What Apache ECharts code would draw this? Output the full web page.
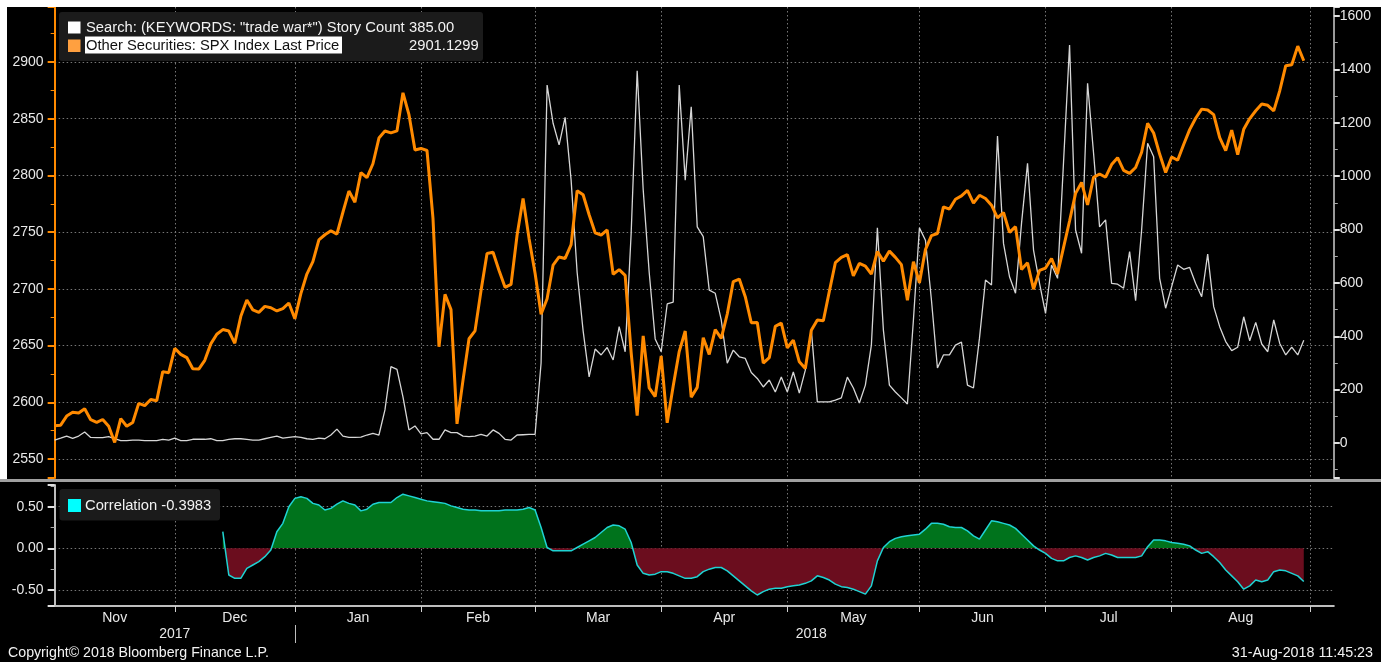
<!DOCTYPE html>
<html><head><meta charset="utf-8">
<script src="https://cdn.jsdelivr.net/npm/echarts@6/dist/echarts.min.js"></script>
<style>html,body{margin:0;padding:0;background:#fff;}#c{width:1381px;height:662px;}</style>
</head><body><div id="c"></div>
<script>
// ---------- trading days (categories) ----------
const nov17 = [1,2,3,6,7,8,9,10,13,14,15,16,17,20,21,22,24,27,28,29,30];
const dec17 = [1,4,5,6,7,8,11,12,13,14,15,18,19,20,21,22,26,27,28,29];
const jan18 = [2,3,4,5,8,9,10,11,12,16,17,18,19,22,23,24,25,26,29,30,31];
const feb18 = [1,2,5,6,7,8,9,12,13,14,15,16,20,21,22,23,26,27,28];
const mar18 = [1,2,5,6,7,8,9,12,13,14,15,16,19,20,21,22,23,26,27,28,29];
const apr18 = [2,3,4,5,6,9,10,11,12,13,16,17,18,19,20,23,24,25,26,27,30];
const may18 = [1,2,3,4,7,8,9,10,11,14,15,16,17,18,21,22,23,24,25,29,30,31];
const jun18 = [1,4,5,6,7,8,11,12,13,14,15,18,19,20,21,22,25,26,27,28,29];
const jul18 = [2,3,5,6,9,10,11,12,13,16,17,18,19,20,23,24,25,26,27,30,31];
const aug18 = [1,2,3,6,7,8,9,10,13,14,15,16,17,20,21,22,23,24,27,28,29,30,31];
const sep18 = [4,5,6,7];
const monthKeys = ['2017-11','2017-12','2018-01','2018-02','2018-03','2018-04','2018-05','2018-06','2018-07','2018-08','2018-09'];
const monthDays = [nov17,dec17,jan18,feb18,mar18,apr18,may18,jun18,jul18,aug18,sep18];
const monthLabels = ['Nov','Dec','Jan','Feb','Mar','Apr','May','Jun','Jul','Aug'];
const yearLabels = ['2017','2018'];

// ---------- series values ----------
const spxLast = [
2579.36,2579.85,2587.84,2591.13,2590.64,2594.38,2584.62,2582.30,2584.84,2578.87,2564.62,2585.64,2578.85,2582.14,2599.03,2597.08,2602.42,2601.42,2627.04,2626.07,2647.58,
2642.22,2639.44,2629.57,2629.27,2636.98,2651.50,2659.99,2664.11,2662.85,2652.01,2675.81,2690.16,2681.47,2679.25,2684.57,2683.34,2680.50,2682.62,2687.54,2673.61,
2695.81,2713.06,2723.99,2743.15,2747.71,2751.29,2748.23,2767.56,2786.24,2776.42,2802.56,2798.03,2810.30,2832.97,2839.13,2837.54,2839.25,2872.87,2853.53,2822.43,2823.81,
2821.98,2762.13,2648.94,2695.14,2681.66,2581.00,2619.55,2656.00,2662.94,2698.63,2731.20,2732.22,2716.26,2701.33,2703.96,2747.30,2779.60,2744.28,2713.83,
2677.67,2691.25,2720.94,2728.12,2726.80,2738.97,2786.57,2783.02,2765.31,2749.48,2747.33,2752.01,2712.92,2716.94,2711.93,2643.69,2588.26,2658.55,2612.62,2605.00,2640.87,
2581.88,2614.45,2644.69,2662.84,2604.47,2613.16,2656.87,2642.19,2663.99,2656.30,2677.84,2706.39,2708.64,2693.13,2670.14,2670.29,2634.56,2639.40,2666.94,2669.91,2648.05,
2654.80,2635.67,2629.73,2663.42,2672.63,2671.92,2697.79,2723.07,2727.72,2730.13,2711.45,2722.46,2720.13,2712.97,2733.01,2724.44,2733.29,2727.76,2721.33,2689.86,2724.01,2705.27,
2734.62,2746.87,2748.80,2772.35,2770.37,2779.03,2782.00,2786.85,2775.63,2782.49,2779.66,2773.75,2762.59,2767.32,2749.76,2754.88,2717.07,2723.06,2699.63,2716.31,2718.37,
2726.71,2713.22,2736.61,2759.82,2784.17,2793.84,2774.02,2798.29,2801.31,2798.43,2809.55,2815.62,2804.49,2801.83,2806.98,2820.40,2846.07,2837.44,2818.82,2802.60,2816.29,
2813.36,2827.22,2840.35,2850.40,2858.45,2857.70,2853.58,2833.28,2821.93,2839.96,2818.37,2840.69,2850.13,2857.05,2862.96,2861.82,2856.98,2874.69,2896.74,2897.52,2914.04,2901.13
];
const storyCount = [
11,18,26,17,26,41,21,20,20,24,16,9,9,11,11,9,9,9,14,11,18,9,9,14,14,14,16,
9,9,14,16,16,14,11,11,16,21,26,18,21,24,21,16,14,18,16,30,52,26,21,21,22,30,
36,30,124,286,276,173,49,64,34,39,14,14,49,39,39,26,24,26,32,26,49,36,14,11,30,31,32,32,
300,1341,1198,1117,1220,985,640,420,248,352,330,358,311,436,342,786,1395,950,640,390,342,521,528,1341,985,1260,810,773,573,561,461,299,348,323,317,264,242,
210,236,191,247,191,266,187,273,423,154,154,154,161,169,247,206,150,217,367,806,423,217,191,169,146,461,806,760,536,281,330,330,367,378,217,206,393,611,592,
1150,748,623,561,823,1048,723,598,486,667,617,1054,1491,798,711,1348,1085,810,836,598,595,580,717,533,798,1123,1073,617,505,586,667,651,658,598,548,708,511,436,380,346,359,473,383,452,371,342,461,373,330,359,330,385
];
const correlationStart = '2017-12-12';
const correlation = [
0.20,-0.32,-0.36,-0.36,-0.24,-0.20,-0.16,-0.10,-0.02,0.20,0.30,0.50,0.60,0.62,0.60,0.54,0.52,0.46,0.48,0.53,0.57,0.54,0.52,0.45,0.47,0.53,0.55,0.55,0.55,0.61,
0.65,0.63,0.61,0.59,0.57,0.56,0.55,0.54,0.51,0.49,0.47,0.46,0.46,0.45,0.45,0.45,0.45,0.46,0.46,0.46,0.47,0.49,0.46,0.25,0.01,-0.03,-0.03,-0.03,-0.03,0.01,
0.05,0.09,0.13,0.19,0.25,0.28,0.27,0.23,0.07,-0.20,-0.30,-0.32,-0.31,-0.28,-0.28,-0.30,-0.33,-0.36,-0.36,-0.34,-0.28,-0.25,-0.23,-0.23,-0.27,-0.33,-0.39,-0.45,-0.51,-0.56,
-0.52,-0.49,-0.48,-0.48,-0.46,-0.45,-0.44,-0.42,-0.39,-0.33,-0.35,-0.38,-0.43,-0.46,-0.47,-0.49,-0.52,-0.55,-0.45,-0.15,0.01,0.08,0.12,0.14,0.15,0.16,0.17,0.23,0.30,0.30,
0.29,0.26,0.25,0.25,0.21,0.15,0.11,0.22,0.33,0.32,0.30,0.28,0.24,0.17,0.10,0.03,-0.02,-0.06,-0.12,-0.15,-0.15,-0.11,-0.09,-0.11,-0.14,-0.11,-0.09,-0.06,-0.08,-0.11,
-0.11,-0.11,-0.11,-0.09,0.02,0.10,0.10,0.09,0.07,0.06,0.05,0.03,-0.02,-0.06,-0.04,-0.10,-0.17,-0.26,-0.33,-0.40,-0.49,-0.45,-0.38,-0.40,-0.38,-0.28,-0.26,-0.27,-0.30,-0.33,
-0.3983
];

// ---------- derived structures ----------
const dates = [];
const monthEnd = [];
monthKeys.forEach((k, m) => {
  monthDays[m].forEach(d => dates.push(k + '-' + String(d).padStart(2, '0')));
  monthEnd.push(dates.length - 1);
});
const tickIdx = new Set(monthEnd.slice(0, monthLabels.length));
const labelAt = {};
monthLabels.forEach((t, m) => {
  const a = m === 0 ? 0 : monthEnd[m - 1];
  const mid = (a + monthEnd[m]) / 2;
  labelAt[Math.floor(mid)] = { text: t, half: mid % 1 !== 0 };
});
const yearEnd = dates.findIndex(d => d.startsWith('2018')) - 1;
const yearAt = {};
yearAt[Math.floor(yearEnd / 2)] = yearLabels[0];
yearAt[Math.floor((yearEnd + dates.length - 1) / 2)] = yearLabels[1];
const corrOffset = dates.indexOf(correlationStart);
const corrData = dates.map((d, i) => (i >= corrOffset && i - corrOffset < correlation.length) ? correlation[i - corrOffset] : null);

// ---------- styles ----------
const FONT = 'Liberation Sans, Arial, sans-serif';
const ORANGE = '#ff8a00';
const gridDot = { color: '#767676', width: 1, type: [1.5, 2.5] };
const lblStyle = { color: '#e8e8e8', fontSize: 14, fontFamily: FONT };
const plain = (v) => String(Math.round(v));

const chart = echarts.init(document.getElementById('c'));
chart.setOption({
  backgroundColor: '#000',
  animation: false,
  grid: [
    { left: 54.65, right: 47.2, top: 7, height: 471 },
    { left: 54.65, right: 47.2, top: 485, height: 121 }
  ],
  xAxis: [
    { type: 'category', gridIndex: 0, data: dates, boundaryGap: false,
      axisLine: { show: false, onZero: false }, axisTick: { show: false }, axisLabel: { show: false },
      splitLine: { show: true, interval: (i) => tickIdx.has(i), lineStyle: gridDot } },
    { type: 'category', gridIndex: 1, data: dates, boundaryGap: false, position: 'bottom',
      axisLine: { show: true, onZero: false, lineStyle: { color: '#bdbdbd', width: 2 } },
      axisTick: { show: true, interval: (i) => tickIdx.has(i), length: 6, lineStyle: { color: '#d0d0d0', width: 1 } },
      axisLabel: Object.assign({ interval: (i) => labelAt[i] !== undefined, margin: 5,
        formatter: (v, i) => { const L = labelAt[i]; if (!L) return ''; return L.half ? '{h|' + L.text + '}' : L.text; },
        rich: { h: { padding: [0, 0, 0, 6], fontSize: 14, fontFamily: FONT, color: '#e8e8e8' } } }, lblStyle),
      splitLine: { show: true, interval: (i) => tickIdx.has(i), lineStyle: gridDot } },
    { type: 'category', gridIndex: 1, data: dates, boundaryGap: false, position: 'bottom', offset: 19,
      axisLine: { show: false, onZero: false },
      axisTick: { show: true, interval: (i) => i === yearEnd, length: 18, lineStyle: { color: '#bdbdbd', width: 1 } },
      axisLabel: Object.assign({ interval: (i) => yearAt[i] !== undefined, margin: 2,
        formatter: (v, i) => yearAt[i] || '' }, lblStyle),
      splitLine: { show: false } }
  ],
  yAxis: [
    { type: 'value', gridIndex: 0, position: 'left', min: 2533.25, max: 2948.5, splitNumber: 8,
      axisLine: { show: true, lineStyle: { color: ORANGE, width: 2 } },
      axisTick: { show: true, length: 7, lineStyle: { color: ORANGE, width: 2 } },
      minorTick: { show: true, splitNumber: 2, length: 4, lineStyle: { color: ORANGE, width: 1 } },
      axisLabel: Object.assign({ margin: 11, showMinLabel: false, showMaxLabel: false, formatter: plain }, lblStyle),
      splitLine: { show: true, showMinLine: false, showMaxLine: false, lineStyle: gridDot } },
    { type: 'value', gridIndex: 0, position: 'right', min: -131.1, max: 1633.7, splitNumber: 8,
      axisLine: { show: true, lineStyle: { color: '#9a9a9a', width: 2 } },
      axisTick: { show: true, length: 6, lineStyle: { color: '#e0e0e0', width: 2 } },
      minorTick: { show: true, splitNumber: 2, length: 4, lineStyle: { color: '#aaaaaa', width: 1 } },
      axisLabel: Object.assign({ margin: 6, showMinLabel: false, showMaxLabel: false, formatter: plain }, lblStyle),
      splitLine: { show: false } },
    { type: 'value', gridIndex: 1, position: 'left', min: -0.692, max: 0.7605, splitNumber: 3,
      axisLine: { show: true, lineStyle: { color: '#bdbdbd', width: 2 } },
      axisTick: { show: true, length: 7, lineStyle: { color: '#e0e0e0', width: 2 } },
      minorTick: { show: true, splitNumber: 2, length: 4, lineStyle: { color: '#aaaaaa', width: 1 } },
      axisLabel: Object.assign({ margin: 11, showMinLabel: false, showMaxLabel: false, formatter: (v) => v.toFixed(2) }, lblStyle),
      splitLine: { show: true, showMinLine: false, showMaxLine: false, lineStyle: gridDot } }
  ],
  visualMap: [{
    type: 'piecewise', show: false, seriesIndex: 2, dimension: 1,
    pieces: [{ gte: -2, lte: 0, color: '#6b0d1e' }, { gt: 0, lte: 2, color: '#00731c' }],
    outOfRange: { color: '#000000' }
  }],
  series: [
    { name: 'Story Count', type: 'line', xAxisIndex: 0, yAxisIndex: 1, data: storyCount, showSymbol: false,
      lineStyle: { color: '#d6d6d6', width: 1.3 }, itemStyle: { color: '#d6d6d6' }, z: 2 },
    { name: 'SPX Index Last Price', type: 'line', xAxisIndex: 0, yAxisIndex: 0, data: spxLast, showSymbol: false,
      lineStyle: { color: ORANGE, width: 3 }, itemStyle: { color: ORANGE }, z: 3 },
    { name: 'Correlation', type: 'line', xAxisIndex: 1, yAxisIndex: 2, data: corrData, showSymbol: false,
      lineStyle: { color: '#1fd3d3', width: 1.5 }, areaStyle: { opacity: 1 }, z: 2 }
  ],
  graphic: { elements: [
    { type: 'rect', shape: { x: 0, y: 0, width: 1381, height: 7 }, style: { fill: '#ffffff' }, z: 100, silent: true },
    { type: 'rect', shape: { x: 0, y: 0, width: 7, height: 480 }, style: { fill: '#ffffff' }, z: 100, silent: true },
    { type: 'rect', shape: { x: 0, y: 479, width: 1381, height: 3 }, style: { fill: '#a0a0a0' }, z: 100, silent: true },
    { type: 'rect', shape: { x: 59, y: 12, width: 424, height: 49, r: 3 }, style: { fill: '#1b1b1b' }, z: 100, silent: true },
    { type: 'rect', shape: { x: 68, y: 21.5, width: 12.5, height: 12 }, style: { fill: '#ffffff' }, z: 101, silent: true },
    { type: 'text', x: 86, y: 28, style: { text: 'Search: (KEYWORDS: "trade war*") Story Count', fill: '#f2f2f2', font: '14.75px ' + FONT, verticalAlign: 'middle' }, z: 101, silent: true },
    { type: 'text', x: 409, y: 28, style: { text: '385.00', fill: '#f2f2f2', font: '14.75px ' + FONT, verticalAlign: 'middle' }, z: 101, silent: true },
    { type: 'rect', shape: { x: 68, y: 39.5, width: 12.5, height: 12.5 }, style: { fill: '#ffa040' }, z: 101, silent: true },
    { type: 'rect', shape: { x: 85, y: 36.5, width: 257, height: 17 }, style: { fill: '#ffffff' }, z: 101, silent: true },
    { type: 'text', x: 86, y: 45.5, style: { text: 'Other Securities: SPX Index Last Price', fill: '#111111', font: '14.75px ' + FONT, verticalAlign: 'middle' }, z: 102, silent: true },
    { type: 'text', x: 409, y: 45.5, style: { text: '2901.1299', fill: '#f2f2f2', font: '14.75px ' + FONT, verticalAlign: 'middle' }, z: 101, silent: true },
    { type: 'rect', shape: { x: 59.5, y: 489, width: 160.5, height: 31.5, r: 3 }, style: { fill: '#1b1b1b' }, z: 100, silent: true },
    { type: 'rect', shape: { x: 68, y: 499, width: 13, height: 13 }, style: { fill: '#00ffff' }, z: 101, silent: true },
    { type: 'text', x: 85, y: 505.5, style: { text: 'Correlation -0.3983', fill: '#f2f2f2', font: '14.75px ' + FONT, verticalAlign: 'middle' }, z: 101, silent: true },
    { type: 'text', x: 8, y: 653, style: { text: 'Copyright\u00a9 2018 Bloomberg Finance L.P.', fill: '#f2f2f2', font: '14.2px ' + FONT, verticalAlign: 'middle' }, z: 101, silent: true },
    { type: 'text', x: 1373, y: 653, style: { text: '31-Aug-2018 11:45:23', fill: '#f2f2f2', font: '14.3px ' + FONT, verticalAlign: 'middle', align: 'right' }, z: 101, silent: true }
  ] }
});
</script></body></html>
